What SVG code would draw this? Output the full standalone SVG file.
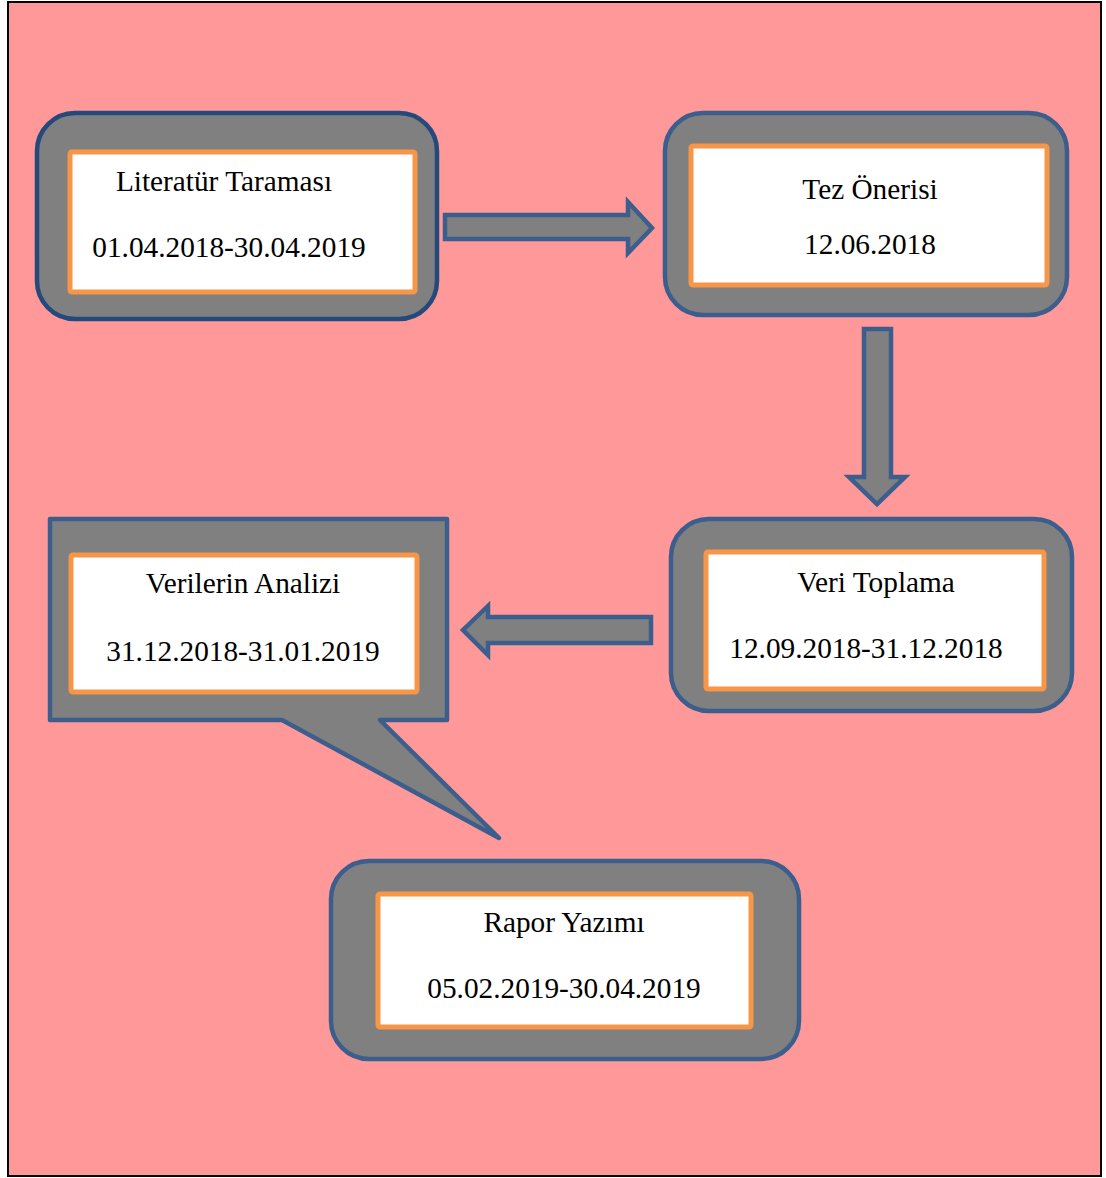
<svg xmlns="http://www.w3.org/2000/svg" width="1106" height="1178" viewBox="0 0 1106 1178">
<style>
.outer{fill:#808080;stroke:#3B5E8C;stroke-width:4.5}
.dark{stroke:#244A7B}
.inner{fill:#FFFFFF;stroke:#F79646;stroke-width:5}
.arrow{fill:#808080;stroke:#3B5E8C;stroke-width:4.5;stroke-linejoin:miter}
text{font-family:"Liberation Serif","Times New Roman",serif;font-size:29.3px;fill:#000;text-anchor:middle}
</style>
<rect x="8" y="2" width="1093" height="1174" fill="#FF9999" stroke="#000" stroke-width="2"/>
<g id="connectors">
<path class="arrow" d="M445,215 H628 V202 L652,228 L628,253 V239 H445 Z"/>
<path class="arrow" d="M864,329 H891 V477 H905 L877,504 L849,477 H864 Z"/>
<path class="arrow" d="M651,617 V643 H488 V655 L463,630 L488,606 V617 Z" stroke-linejoin="round"/>
</g>
<g id="literatur">
<rect class="outer dark" x="37" y="113" width="400" height="206" rx="38"/>
<rect class="inner" x="70" y="152" width="345" height="140" rx="2"/>
<text x="224" y="191">Literatür Taraması</text>
<text x="229" y="257">01.04.2018-30.04.2019</text>
</g>
<g id="tez">
<rect class="outer" x="665" y="113" width="402" height="202" rx="38"/>
<rect class="inner" x="691" y="146" width="356" height="139" rx="2"/>
<text x="870" y="199">Tez Önerisi</text>
<text x="870" y="254">12.06.2018</text>
</g>
<g id="veri">
<rect class="outer" x="671" y="519" width="401" height="192" rx="38"/>
<rect class="inner" x="706" y="552" width="338" height="137" rx="2"/>
<text x="876" y="592">Veri Toplama</text>
<text x="866" y="658">12.09.2018-31.12.2018</text>
</g>
<g id="analiz">
<path class="outer" d="M50,519 H447 V720 H380 L499,838 L282,720 H50 Z" stroke-linejoin="round"/>
<rect class="inner" x="71" y="555" width="346" height="137" rx="2"/>
<text x="243" y="593">Verilerin Analizi</text>
<text x="243" y="661">31.12.2018-31.01.2019</text>
</g>
<g id="rapor">
<rect class="outer" x="331" y="861" width="468" height="198" rx="38"/>
<rect class="inner" x="378" y="894" width="373" height="133" rx="2"/>
<text x="564" y="932">Rapor Yazımı</text>
<text x="564" y="998">05.02.2019-30.04.2019</text>
</g>
</svg>
